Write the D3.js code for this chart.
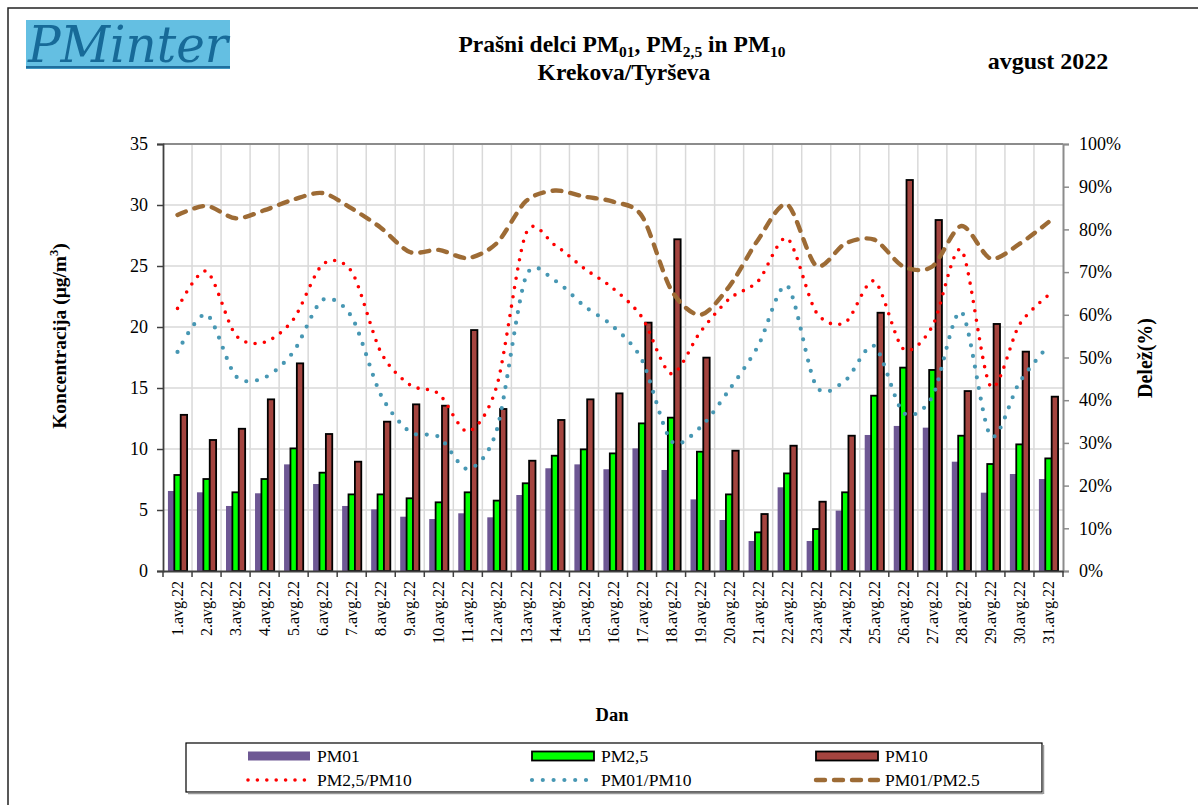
<!DOCTYPE html>
<html>
<head>
<meta charset="utf-8">
<script src="https://cdn.jsdelivr.net/npm/d3@7/dist/d3.min.js"></script>
<style>
  html, body { margin: 0; padding: 0; background: #fff; }
  svg { display: block; font-family: "Liberation Serif", "Times New Roman", serif; }
</style>
</head>
<body>
<svg id="chart" width="1198" height="805"></svg>
<script>
// ---------- DATA ----------
const days = ["1.avg.22","2.avg.22","3.avg.22","4.avg.22","5.avg.22","6.avg.22","7.avg.22","8.avg.22","9.avg.22","10.avg.22",
  "11.avg.22","12.avg.22","13.avg.22","14.avg.22","15.avg.22","16.avg.22","17.avg.22","18.avg.22","19.avg.22","20.avg.22",
  "21.avg.22","22.avg.22","23.avg.22","24.avg.22","25.avg.22","26.avg.22","27.avg.22","28.avg.22","29.avg.22","30.avg.22","31.avg.22"];

const pm01 = [6.56,6.45,5.33,6.37,8.74,7.13,5.33,5.05,4.45,4.26,4.73,4.40,6.23,8.42,8.74,8.34,10.05,8.28,5.87,4.18,
  2.46,6.86,2.46,4.95,11.15,11.89,11.75,8.96,6.42,7.95,7.54];
const pm25 = [7.87,7.54,6.45,7.54,10.05,8.06,6.28,6.28,5.96,5.63,6.45,5.77,7.19,9.45,9.97,9.64,12.10,12.57,9.78,6.28,
  3.17,8.00,3.44,6.45,14.37,16.67,16.48,11.09,8.77,10.38,9.23];
const pm10 = [12.80,10.74,11.66,14.07,17.02,11.23,8.96,12.24,13.66,13.55,19.75,13.28,9.04,12.38,14.07,14.56,20.36,27.19,17.49,9.86,
  4.67,10.27,5.68,11.09,21.17,32.05,28.77,14.75,20.25,17.98,14.29];

// ratios in %
const r25_10 = [61.5,70.2,55.3,53.6,59.0,71.8,70.1,51.3,43.6,41.5,32.7,43.4,79.0,76.3,70.9,66.2,59.4,46.2,55.9,63.7,
  67.9,77.9,60.6,58.2,67.9,52.0,57.3,75.2,43.3,57.7,64.6];
const r01_10 = [51.3,60.1,45.7,45.3,51.4,63.5,59.5,41.3,32.6,31.4,23.9,33.1,68.9,68.0,62.1,57.3,49.4,30.5,33.6,42.4,
  52.7,66.8,43.3,44.6,52.7,37.1,40.8,60.7,31.7,44.2,52.8];
const r01_25 = [83.4,85.5,82.6,84.5,87.0,88.5,84.9,80.4,74.7,75.2,73.3,76.8,86.6,89.1,87.7,86.5,83.1,65.9,60.0,66.6,
  77.6,85.8,71.5,76.7,77.6,71.3,71.3,80.8,73.2,76.6,81.7];

const leftTicks = [0,5,10,15,20,25,30,35];
const rightTicks = [0,10,20,30,40,50,60,70,80,90,100];

const barSeries = [
  { name: "PM01", values: pm01 },
  { name: "PM2,5", values: pm25 },
  { name: "PM10", values: pm10 }
];
const lineSeries = [
  { name: "PM01/PM2.5", values: r01_25 },
  { name: "PM01/PM10", values: r01_10 },
  { name: "PM2,5/PM10", values: r25_10 }
];

// ---------- STYLES ----------
const barStyle = {
  "PM01":  { fill: "#6e5894", stroke: "none", sw: 0 },
  "PM2,5": { fill: "#00ff00", stroke: "#000", sw: 1.8 },
  "PM10":  { fill: "#a4443f", stroke: "#000", sw: 1.8 }
};
const lineStyle = {
  "PM2,5/PM10": { stroke: "#ff0000", width: 3.6, dash: "0 9.4" },
  "PM01/PM10":  { stroke: "#4797b3", width: 4.2, dash: "0 10.8" },
  "PM01/PM2.5": { stroke: "#9d6b35", width: 4.4, dash: "9 9" }
};

// ---------- LAYOUT ----------
const svg = d3.select("#chart");
const L = 163, R = 1063, T = 144, B = 571;

const x = d3.scaleBand().domain(days).range([L, R]).paddingInner(0).paddingOuter(0);
const y = d3.scaleLinear().domain([0, 35]).range([B, T]);
const y2 = d3.scaleLinear().domain([0, 100]).range([B, T]);
const bw = x.bandwidth();
const barW = bw * 0.22;
const offs = { "PM01": -1.5, "PM2,5": -0.5, "PM10": 0.5 };

// outer frame
svg.append("rect").attr("x", 8).attr("y", 8).attr("width", 1200).attr("height", 820)
  .attr("fill", "none").attr("stroke", "#222").attr("stroke-width", 1.5);

// logo
const logo = svg.append("g");
logo.append("rect").attr("x", 26).attr("y", 20).attr("width", 204).attr("height", 49).attr("fill", "#64bfe2");
logo.append("rect").attr("x", 26).attr("y", 66).attr("width", 204).attr("height", 2.5).attr("fill", "#1f6f9e");
logo.append("text").attr("x", 28).attr("y", 62).attr("font-size", 50).attr("font-style", "italic")
  .attr("font-family", "'DejaVu Serif', serif").attr("fill", "#176a98")
  .attr("textLength", 200).attr("lengthAdjust", "spacingAndGlyphs").text("PMinter");

// title
const t1 = svg.append("text").attr("x", 622).attr("y", 52).attr("text-anchor", "middle")
  .attr("font-size", 23.5).attr("font-weight", "bold");
const parts = [["Prašni delci PM", false], ["01", true], [", PM", false], ["2,5", true], [" in PM", false], ["10", true]];
parts.forEach(([s, sub], i) => {
  const ts = t1.append("tspan").text(s);
  if (sub) ts.attr("font-size", 15.5).attr("dy", 5);
  else if (i > 0) ts.attr("dy", -5);
});
svg.append("text").attr("x", 624).attr("y", 80).attr("text-anchor", "middle")
  .attr("font-size", 23.5).attr("font-weight", "bold").text("Krekova/Tyrševa");
svg.append("text").attr("x", 1048).attr("y", 69).attr("text-anchor", "middle")
  .attr("font-size", 24).attr("font-weight", "bold").text("avgust 2022");

// gridlines
const grid = svg.append("g");
grid.selectAll("line.h").data(leftTicks.slice(1)).join("line")
  .attr("x1", L).attr("x2", R).attr("y1", d => y(d)).attr("y2", d => y(d))
  .attr("stroke", "#d9d9d9").attr("stroke-width", 1.5);
grid.selectAll("line.v").data(days.slice(1)).join("line")
  .attr("x1", d => x(d)).attr("x2", d => x(d)).attr("y1", T).attr("y2", B)
  .attr("stroke", "#d9d9d9").attr("stroke-width", 1.5);
// top border
svg.append("line").attr("x1", L).attr("x2", R).attr("y1", T).attr("y2", T)
  .attr("stroke", "#8c8c8c").attr("stroke-width", 2);

// bars
barSeries.forEach(s => {
  const st = barStyle[s.name];
  svg.append("g").selectAll("rect").data(s.values).join("rect")
    .attr("x", (d, i) => x(days[i]) + bw / 2 + offs[s.name] * barW)
    .attr("y", d => y(d))
    .attr("width", barW)
    .attr("height", d => B - y(d))
    .attr("fill", st.fill)
    .attr("stroke", st.stroke)
    .attr("stroke-width", st.sw);
});

// lines
lineSeries.forEach(s => {
  const st = lineStyle[s.name];
  const line = d3.line()
    .x((d, i) => x(days[i]) + bw / 2)
    .y(d => y2(d))
    .curve(d3.curveCardinal.tension(0.15));
  svg.append("path").attr("d", line(s.values))
    .attr("fill", "none").attr("stroke", st.stroke).attr("stroke-width", st.width)
    .attr("stroke-dasharray", st.dash).attr("stroke-linecap", "round");
});

// left axis
const ax = svg.append("g").attr("transform", `translate(${L},0)`)
  .call(d3.axisLeft(y).tickValues(leftTicks).tickSize(6).tickPadding(9).tickFormat(d3.format("d")));
ax.select(".domain").attr("stroke", "#404040").attr("stroke-width", 1.8);
ax.selectAll(".tick line").attr("stroke", "#404040").attr("stroke-width", 1.5);
ax.selectAll("text").attr("font-size", 18).attr("font-family", "'Liberation Serif', serif").attr("fill", "#000");

// right axis
const ar = svg.append("g").attr("transform", `translate(${R},0)`)
  .call(d3.axisRight(y2).tickValues(rightTicks).tickSize(6).tickPadding(10).tickFormat(d => d + "%"));
ar.select(".domain").attr("stroke", "#8c8c8c").attr("stroke-width", 2);
ar.selectAll(".tick line").attr("stroke", "#8c8c8c").attr("stroke-width", 1.5);
ar.selectAll("text").attr("font-size", 18).attr("font-family", "'Liberation Serif', serif").attr("fill", "#000");

// bottom axis
const ab = svg.append("g").attr("transform", `translate(0,${B})`)
  .call(d3.axisBottom(x).tickSize(0).tickPadding(0));
ab.select(".domain").attr("stroke", "#404040").attr("stroke-width", 1.8);
ab.selectAll(".tick text")
  .attr("font-size", 16).attr("font-family", "'Liberation Serif', serif").attr("fill", "#000")
  .attr("transform", "rotate(-90)")
  .attr("text-anchor", "end")
  .attr("x", -10).attr("y", 0).attr("dy", "0.35em");
// boundary ticks
svg.append("g").selectAll("line").data(days.concat(["end"])).join("line")
  .attr("x1", (d, i) => i < days.length ? x(d) : R)
  .attr("x2", (d, i) => i < days.length ? x(d) : R)
  .attr("y1", B).attr("y2", B + 6)
  .attr("stroke", "#404040").attr("stroke-width", 1.5);

// axis titles
const lt = svg.append("text").attr("transform", "translate(66,336) rotate(-90)")
  .attr("text-anchor", "middle").attr("font-size", 19.5).attr("font-weight", "bold");
lt.append("tspan").text("Koncentracija  (μg/m");
lt.append("tspan").text("3").attr("font-size", 12.5).attr("dy", -8);
lt.append("tspan").text(")").attr("dy", 8);
svg.append("text").attr("transform", "translate(1152,358) rotate(-90)")
  .attr("text-anchor", "middle").attr("font-size", 20).attr("font-weight", "bold").text("Delež(%)");
svg.append("text").attr("x", 612).attr("y", 721).attr("text-anchor", "middle")
  .attr("font-size", 18.5).attr("font-weight", "bold").text("Dan");

// legend
const lg = svg.append("g");
lg.append("rect").attr("x", 186).attr("y", 743).attr("width", 856).attr("height", 49)
  .attr("fill", "#fff").attr("stroke", "#000").attr("stroke-width", 1.2);
lg.append("line").attr("x1", 188).attr("x2", 1043).attr("y1", 793.5).attr("y2", 793.5)
  .attr("stroke", "#999").attr("stroke-width", 1.5);
lg.append("line").attr("x1", 1043.5).attr("x2", 1043.5).attr("y1", 745).attr("y2", 794)
  .attr("stroke", "#999").attr("stroke-width", 1.5);
const legItems = [
  { name: "PM01", type: "bar", col: 0, row: 0 },
  { name: "PM2,5", type: "bar", col: 1, row: 0 },
  { name: "PM10", type: "bar", col: 2, row: 0 },
  { name: "PM2,5/PM10", type: "line", col: 0, row: 1 },
  { name: "PM01/PM10", type: "line", col: 1, row: 1 },
  { name: "PM01/PM2.5", type: "line", col: 2, row: 1 }
];
const colX = [248, 532, 816];
const rowY = [756, 780];
legItems.forEach(it => {
  const cx = colX[it.col], cy = rowY[it.row];
  if (it.type === "bar") {
    const st = barStyle[it.name];
    lg.append("rect").attr("x", cx).attr("y", cy - 4.5).attr("width", 62).attr("height", 9)
      .attr("fill", st.fill).attr("stroke", st.stroke).attr("stroke-width", st.sw);
  } else {
    const st = lineStyle[it.name];
    lg.append("line").attr("x1", cx).attr("x2", cx + 62).attr("y1", cy).attr("y2", cy)
      .attr("stroke", st.stroke).attr("stroke-width", st.width)
      .attr("stroke-dasharray", st.dash).attr("stroke-linecap", "round");
  }
  lg.append("text").attr("x", cx + 69).attr("y", cy).attr("dy", "0.35em")
    .attr("font-size", 17.5).text(it.name);
});
</script>
</body>
</html>
